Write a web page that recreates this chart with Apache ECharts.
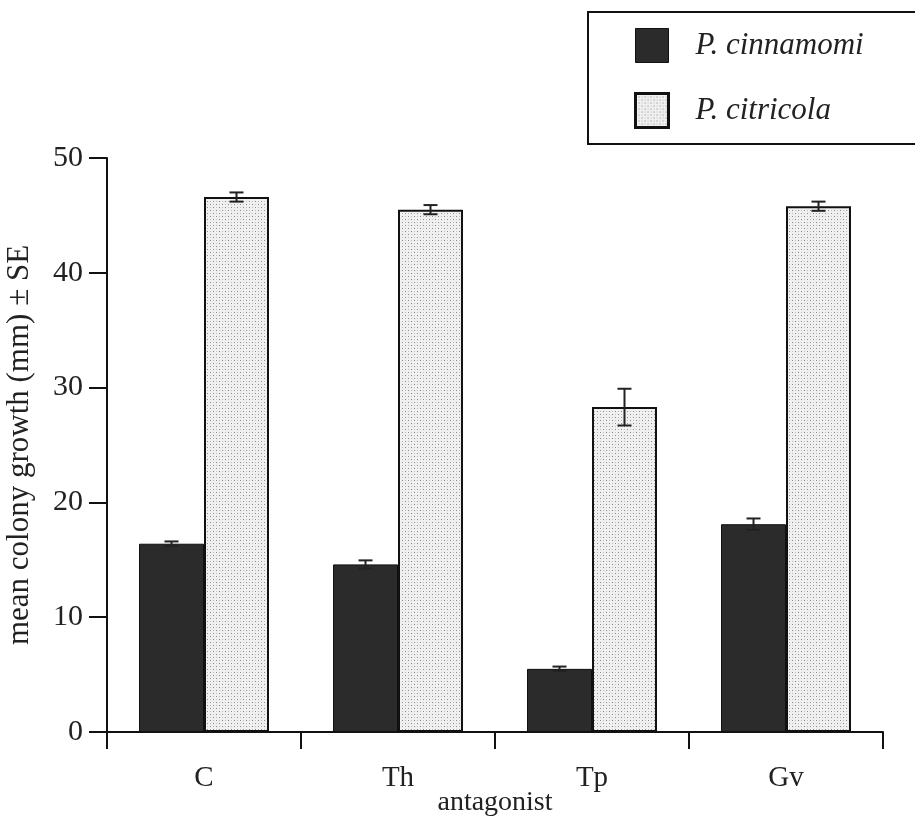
<!DOCTYPE html>
<html>
<head>
<meta charset="utf-8">
<script src="https://cdn.jsdelivr.net/npm/echarts@6/dist/echarts.min.js"></script>
<style>
  html, body { margin: 0; padding: 0; background: #ffffff; }
  #chart { width: 915px; height: 824px; }
</style>
</head>
<body>
<div id="chart"></div>
<script>
// Mean colony growth of two Phytophthora species against each antagonist
const categories = ['C', 'Th', 'Tp', 'Gv'];
const cinnamomi = [16.4, 14.6, 5.5, 18.1];
const cinnamomiSE = [0.2, 0.35, 0.2, 0.5];
const citricola = [46.6, 45.5, 28.3, 45.8];
const citricolaSE = [0.4, 0.4, 1.6, 0.4];
const seriesNames = ['P. cinnamomi', 'P. citricola'];

const FONT = '"Liberation Serif", "DejaVu Serif", serif';
const BAR_FRAC = 0.335;

// stippled fill for the second species
function stipple() {
  const c = document.createElement('canvas');
  c.width = 6; c.height = 6;
  const g = c.getContext('2d');
  g.fillStyle = '#f0f0f0';
  g.fillRect(0, 0, 6, 6);
  g.fillStyle = '#8a8a8a';
  g.fillRect(0, 0, 1, 1);
  g.fillRect(3, 3, 1, 1);
  g.fillStyle = '#c0c0c0';
  g.fillRect(3, 0, 1, 1);
  g.fillRect(0, 3, 1, 1);
  return c;
}
const dotted = { image: stipple(), repeat: 'repeat' };

function errorData(values, errs, idx) {
  return values.map((v, i) => [i, v, errs[i], idx]);
}

function renderError(params, api) {
  const i = api.value(0), v = api.value(1), se = api.value(2), idx = api.value(3);
  const band = api.size([1, 0])[0];
  const w = band * BAR_FRAC;
  const x = api.coord([i, v])[0] + (idx === 0 ? -w / 2 : w / 2);
  const hi = api.coord([i, v + se])[1];
  const lo = api.coord([i, v - se])[1];
  const cap = 7;
  const style = { stroke: '#222', lineWidth: 2 };
  return {
    type: 'group',
    children: [
      { type: 'line', shape: { x1: x, y1: hi, x2: x, y2: lo }, style },
      { type: 'line', shape: { x1: x - cap, y1: hi, x2: x + cap, y2: hi }, style },
      { type: 'line', shape: { x1: x - cap, y1: lo, x2: x + cap, y2: lo }, style }
    ]
  };
}

const chart = echarts.init(document.getElementById('chart'), null, { renderer: 'canvas' });
chart.setOption({
  backgroundColor: '#ffffff',
  animation: false,
  textStyle: { fontFamily: FONT },
  grid: { left: 107, right: 32, top: 158, bottom: 92, containLabel: false, outerBoundsMode: 'none' },
  legend: {
    orient: 'vertical',
    left: 588,
    top: 12,
    icon: 'rect',
    itemWidth: 33,
    itemHeight: 34,
    itemGap: 29,
    padding: [16, 110, 15, 46],
    borderColor: '#111',
    borderWidth: 2,
    borderRadius: 0,
    selectedMode: false,
    textStyle: { fontFamily: FONT, fontStyle: 'italic', fontSize: 31, color: '#222', padding: [0, 0, 0, 22] },
    data: [
      { name: seriesNames[0], itemStyle: { color: '#2b2b2b', borderColor: '#111', borderWidth: 1 } },
      { name: seriesNames[1], itemStyle: { color: dotted, borderColor: '#111', borderWidth: 3 } }
    ]
  },
  xAxis: {
    type: 'category',
    data: categories,
    name: 'antagonist',
    nameLocation: 'middle',
    nameGap: 57,
    nameMoveOverlap: false,
    nameTextStyle: { fontFamily: FONT, fontSize: 28, color: '#222' },
    axisLine: { lineStyle: { color: '#111', width: 2 } },
    axisTick: { show: true, length: 17, lineStyle: { color: '#111', width: 2 } },
    axisLabel: { fontFamily: FONT, fontSize: 29, color: '#222', margin: 32 },
    splitLine: { show: false }
  },
  yAxis: {
    type: 'value',
    min: 0,
    max: 50,
    interval: 10,
    name: 'mean colony growth (mm) ± SE',
    nameLocation: 'middle',
    nameGap: 72,
    nameMoveOverlap: false,
    nameTextStyle: { fontFamily: FONT, fontSize: 31, color: '#222' },
    axisLine: { show: true, lineStyle: { color: '#111', width: 2 } },
    axisTick: { show: true, length: 18, lineStyle: { color: '#111', width: 2 } },
    axisLabel: { fontFamily: FONT, fontSize: 30, color: '#222', margin: 24 },
    splitLine: { show: false }
  },
  series: [
    {
      name: seriesNames[0],
      type: 'bar',
      data: cinnamomi,
      barWidth: (BAR_FRAC * 100) + '%',
      barGap: '0%',
      itemStyle: { color: '#2b2b2b', borderColor: '#111', borderWidth: 1 }
    },
    {
      name: seriesNames[1],
      type: 'bar',
      data: citricola,
      barWidth: (BAR_FRAC * 100) + '%',
      barGap: '0%',
      itemStyle: { color: dotted, borderColor: '#111', borderWidth: 2 }
    },
    {
      type: 'custom',
      renderItem: renderError,
      data: errorData(cinnamomi, cinnamomiSE, 0).concat(errorData(citricola, citricolaSE, 1)),
      encode: { x: 0, y: 1 },
      z: 10,
      silent: true
    }
  ]
});
</script>
</body>
</html>
